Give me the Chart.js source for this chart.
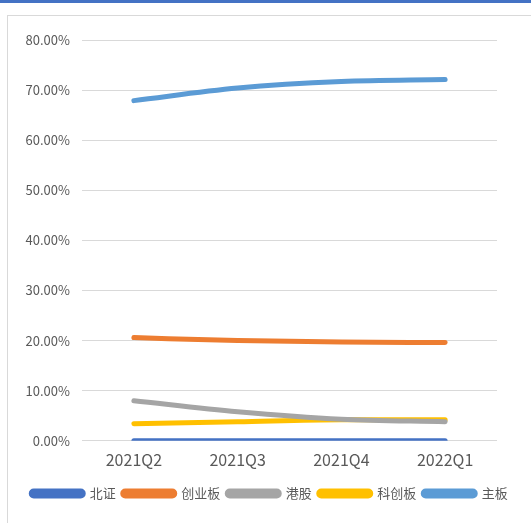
<!DOCTYPE html>
<html>
<head>
<meta charset="utf-8">
<script src="https://cdn.jsdelivr.net/npm/chart.js@4"></script>
<style>
  html, body { margin: 0; padding: 0; background: #fff; }
  body { width: 531px; height: 523px; position: relative; overflow: hidden; }
  .topbar { position: absolute; left: 0; top: 0; width: 531px; height: 3px; background: #4472C4; }
  .frame { position: absolute; left: 7px; top: 15px; width: 540px; height: 520px; border: 1px solid #d9d9d9; }
  .wrap { position: absolute; left: 8px; top: 16px; width: 523px; height: 507px; }
</style>
</head>
<body>
<div class="topbar"></div>
<div class="frame"></div>
<div class="wrap"><canvas id="c"></canvas></div>
<script>
// categories + series (share of total, fraction)
const quarters = ['2021Q2', '2021Q3', '2021Q4', '2022Q1'];
const beizheng = [0, 0, 0, 0];
const chuangye = [0.206, 0.200, 0.197, 0.196];
const ganggu   = [0.080, 0.058, 0.043, 0.038];
const kechuang = [0.034, 0.038, 0.042, 0.042];
const zhuban   = [0.679, 0.704, 0.717, 0.721];
const yTicks = [0, 0.1, 0.2, 0.3, 0.4, 0.5, 0.6, 0.7, 0.8];

const font = "'Noto Sans CJK SC', 'Liberation Sans', sans-serif";

function series(label, data, color) {
    return {
        label: label,
        data: data,
        borderColor: color,
        backgroundColor: color,
        borderWidth: 5,
        borderCapStyle: 'round',
        pointRadius: 0,
        fill: false,
        tension: 0.4,
        cubicInterpolationMode: 'monotone'
    };
}

new Chart(document.getElementById('c'), {
    type: 'line',
    data: {
        labels: quarters,
        datasets: [
            series('北证', beizheng, '#4472C4'),
            series('创业板', chuangye, '#ED7D31'),
            series('港股', ganggu, '#A5A5A5'),
            series('科创板', kechuang, '#FFC000'),
            series('主板', zhuban, '#5B9BD5')
        ]
    },
    options: {
        responsive: true,
        maintainAspectRatio: false,
        animation: false,
        layout: { padding: { left: 0, right: 0, top: 24, bottom: 13 } },
        plugins: {
            legend: {
                position: 'bottom',
                labels: {
                    boxWidth: 52,
                    boxHeight: 5,
                    useBorderRadius: true,
                    borderRadius: 2.5,
                    color: '#595959',
                    font: { family: font, size: 13 },
                    padding: 7
                }
            },
            tooltip: { enabled: false }
        },
        scales: {
            x: {
                offset: true,
                grid: { display: false },
                border: { display: false },
                ticks: { color: '#595959', font: { family: font, size: 16 }, padding: 2 },
                afterFit: axis => { axis.height += 8; }
            },
            y: {
                min: 0,
                max: 0.8,
                afterBuildTicks: axis => { axis.ticks = yTicks.map(v => ({ value: v })); },
                afterFit: axis => { axis.width = 74; },
                grid: { color: '#d9d9d9', lineWidth: 1, drawTicks: false },
                border: { display: false },
                ticks: {
                    color: '#595959',
                    font: { family: font, size: 13 },
                    padding: 12,
                    callback: v => (v * 100).toFixed(2) + '%'
                }
            },
            // empty right gutter so the grid stops short of the frame
            yRight: {
                position: 'right',
                display: true,
                grid: { display: false },
                border: { display: false },
                ticks: { display: false },
                afterFit: axis => { axis.width = 34; }
            }
        }
    }
});
</script>
</body>
</html>
